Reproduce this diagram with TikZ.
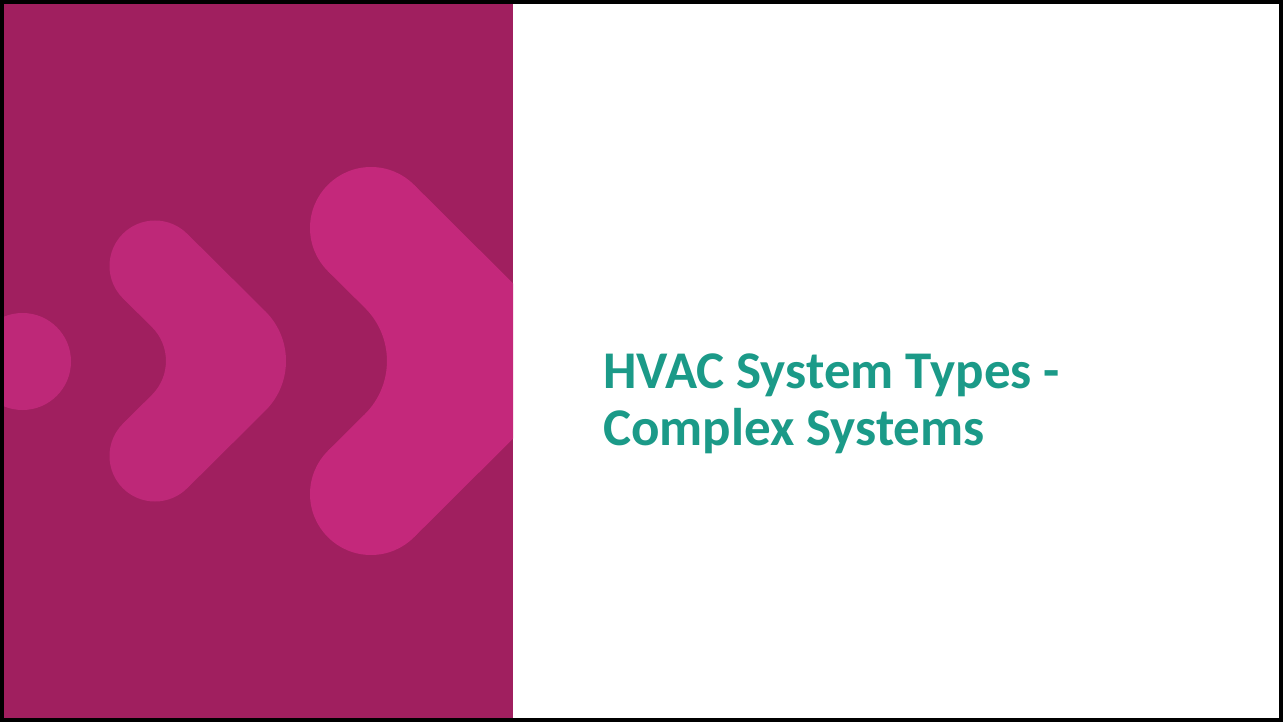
\documentclass[tikz,border=0pt]{standalone}
\usepackage{fontspec}
\setmainfont{Carlito}
\definecolor{panelbg}{HTML}{A01F5F}
\definecolor{chevA}{HTML}{BE2878}
\definecolor{chevB}{HTML}{C4287B}
\definecolor{titleteal}{HTML}{1B9A88}
\tikzset{
  titletext/.style={anchor=base west, inner sep=0pt, text=titleteal,
    font=\fontsize{53}{57}\selectfont\bfseries},
}
\begin{document}
\begin{tikzpicture}[x=1pt, y=-1pt]
  % frame and slide background
  \fill[black] (0,0) rectangle (1283,722);
  \fill[white] (4,4) rectangle (1279,718);
  \useasboundingbox (0,0) rectangle (1283,722);
  % left decorative panel
  \fill[panelbg] (4,4) rectangle (513,718);
  \begin{scope}
    \clip (4,4) rectangle (513,718);
    % dot
    \fill[chevA] (22.5,361.5) circle[radius=48.5];
    % small chevron
    \fill[chevA] (155,266) circle[radius=45.5];
    \fill[chevA] (155,456) circle[radius=45.5];
    \fill[chevA] (187.2,233.8) -- (265.5,311.5)
      arc[start angle=-45, end angle=45, radius=70]
      -- (187.2,488.2) -- (122.8,423.8) -- (151.9,394.9)
      arc[start angle=45, end angle=-45, radius=48]
      -- (122.8,298.2) -- cycle;
    % large chevron
    \fill[chevB] (371,228) circle[radius=61];
    \fill[chevB] (371,494) circle[radius=61];
    \fill[chevB] (414.1,184.9) -- (591,361) -- (414.1,537.1)
      -- (327.9,450.9) -- (365,414)
      arc[start angle=45, end angle=-45, radius=75]
      -- (327.9,271.1) -- cycle;
  \end{scope}
  % title
  \node[titletext] (title1) at (603,388) {HVAC System Types -};
  \node[titletext] (title2) at (603,445) {Complex Systems};
\end{tikzpicture}
\end{document}
